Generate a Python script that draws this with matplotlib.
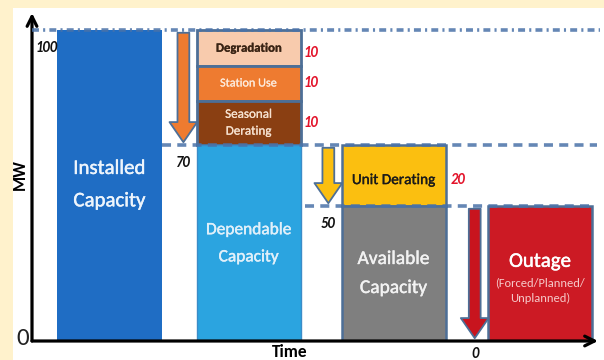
import numpy as np
import matplotlib
matplotlib.use("Agg")
import matplotlib.pyplot as plt
import matplotlib.patheffects as pe
from matplotlib.patches import Rectangle

# capacity build-down, MW
installed_mw = 100
loss_names = ["Degradation", "Station Use", "Seasonal\nDerating"]
loss_mw = [10, 10, 10]
unit_derating_mw = 20
column_names = ["Installed\nCapacity", "Dependable\nCapacity", "Available\nCapacity", "Outage"]
outage_note = "(Forced/Planned/\nUnplanned)"

dependable_mw = installed_mw - sum(loss_mw)
available_mw = dependable_mw - unit_derating_mw
remaining_mw = available_mw - available_mw  # after a full outage

# schematic (piecewise) vertical axis: MW -> drawing height
axis_mw = [0, 50, 70, 80, 90, 100, 105]
axis_h = [0, 135, 196, 240.5, 275.5, 311, 328]

CREAM = "#fff2cc"
EDGE = "#4d6f97"
LINE = "#4a72a8"
loss_colors = ["#f8cbad", "#ee7b30", "#8a3f12"]
loss_text = ["#3a2414", "#fde9d9", "#f6e1cf"]
loss_size = [9.2, 8.8, 9.4]

plt.rcParams["font.family"] = ["Carlito", "Lato", "DejaVu Sans"]
plt.rcParams["lines.scale_dashes"] = False


def fwd(v):
    return np.interp(v, axis_mw, axis_h)


def inv(h):
    return np.interp(h, axis_h, axis_mw)


def heavy(color, w=0.3):
    # slightly thicker strokes for the labels inside the boxes
    return [pe.withStroke(linewidth=w, foreground=color)]


fig = plt.figure(figsize=(6.04, 3.6), dpi=100, facecolor=CREAM)
fig.add_artist(Rectangle((13 / 604, 0), 1, 352 / 360, transform=fig.transFigure,
                         fc="white", ec="none", zorder=-10))
ax = fig.add_axes([32 / 604, 19 / 360, 566 / 604, 328 / 360])
ax.set_yscale("function", functions=(fwd, inv))
ax.set_xlim(-0.54, 3.404)
ax.set_ylim(0, 105)
ax.patch.set_visible(False)
for s in ax.spines.values():
    s.set_visible(False)
ax.set_xticks([])
ax.set_yticks([])
ax.minorticks_off()

# axes with arrow heads
for tip in [(0, 1), (1, 0)]:
    ax.annotate("", xy=tip, xytext=(0, 0), xycoords="axes fraction",
                arrowprops=dict(arrowstyle="->,head_length=0.7,head_width=0.35",
                                lw=2.3, color="black", shrinkA=0, shrinkB=0))

col_x = [0, 0.97, 1.98, 3.0]
bar_w = 0.725
arrow_dx = -0.455

# installed
ax.bar(col_x[0], installed_mw, bar_w, color="#1f6dc4", zorder=2)
ax.text(col_x[0], 57, column_names[0], ha="center", va="center",
        color="#eef5fc", fontsize=15, linespacing=2.1, path_effects=heavy("#eef5fc"))

# losses stacked on top of dependable capacity
top = installed_mw
for name, mw, fc, tc, fs in zip(loss_names, loss_mw, loss_colors, loss_text, loss_size):
    ax.bar(col_x[1], -mw, bar_w, bottom=top, color=fc, edgecolor=EDGE, lw=2, zorder=2)
    mid = top - mw / 2
    ax.text(col_x[1], mid, name, ha="center", va="center", color=tc, fontsize=fs,
            fontweight="bold" if tc == "#3a2414" else "normal", linespacing=1.65,
            path_effects=heavy(tc, 0.15), zorder=3)
    ax.text(col_x[1] + bar_w / 2 + 0.07, mid - (1.5 if top == installed_mw else 0), str(mw),
            ha="center", va="center", color="#e3142b", fontsize=10.5,
            fontweight="bold", fontstyle="italic", zorder=3)
    top -= mw

ax.bar(col_x[1], dependable_mw, bar_w, color="#2ba4e0", edgecolor="#3a8cc8", lw=1, zorder=2)
ax.text(col_x[1], 36, column_names[1], ha="center", va="center",
        color="#e1f0fa", fontsize=12.5, linespacing=2.2, path_effects=heavy("#e1f0fa"))

# unit derating and available capacity
ax.bar(col_x[2], -unit_derating_mw, bar_w, bottom=dependable_mw, color="#fbbf10",
       edgecolor=EDGE, lw=1.8, zorder=2)
ax.text(col_x[2], dependable_mw - unit_derating_mw / 2 - 1.5, "Unit Derating",
        ha="center", va="center", color="#1a1a1a", fontsize=11,
        path_effects=heavy("#1a1a1a", 0.25), zorder=3)
ax.text(col_x[2] + bar_w / 2 + 0.085, dependable_mw - unit_derating_mw / 2 - 1.5,
        str(unit_derating_mw), ha="center", va="center", color="#e3142b",
        fontsize=10.5, fontweight="bold", fontstyle="italic")
ax.bar(col_x[2], available_mw, bar_w, color="#7f7f7f", edgecolor=EDGE, lw=1.8, zorder=2)
ax.text(col_x[2], 25, column_names[2], ha="center", va="center",
        color="#f2f2f2", fontsize=14, linespacing=2.0, path_effects=heavy("#f2f2f2"))

# outage
ax.bar(col_x[3], available_mw - remaining_mw, bar_w, bottom=remaining_mw,
       color="#cc1a24", edgecolor=EDGE, lw=1.8, zorder=2)
ax.text(col_x[3], 29.5, column_names[3], ha="center", va="center",
        color="white", fontsize=15, path_effects=heavy("white"))
ax.text(col_x[3], 18.5, outage_note, ha="center", va="center",
        color="#f6c9c9", fontsize=9, linespacing=1.5)

# step-down arrows
steps = [(installed_mw, dependable_mw, "#ee7b30"),
         (dependable_mw, available_mw, "#fbbf10"),
         (available_mw, remaining_mw, "#c8141e")]
for i, (y0, y1, fc) in enumerate(steps):
    x = col_x[i + 1] + arrow_dx
    ax.annotate("", xy=(x, y1), xytext=(x, y0),
                arrowprops=dict(arrowstyle="simple,head_length=1.45,head_width=2.0,tail_width=0.85",
                                mutation_scale=10, fc=fc, ec=EDGE, lw=1.3,
                                shrinkA=2, shrinkB=2), zorder=4)

# reference levels
x_end = 3.40
ax.plot([-0.54, x_end + 0.02], [installed_mw] * 2, color=LINE, lw=2.6,
        ls=(0, (5, 3, 1.5, 3)), alpha=0.85, zorder=5, clip_on=False)
ax.plot([col_x[1] + arrow_dx - 0.15, x_end], [dependable_mw] * 2, color=LINE, lw=2.6,
        ls=(0, (6.5, 4.5)), alpha=0.85, zorder=5, clip_on=False)
ax.plot([col_x[2] + arrow_dx - 0.16, x_end - 0.03], [available_mw] * 2, color=LINE, lw=2.6,
        ls=(0, (6.5, 4.5)), alpha=0.85, zorder=5, clip_on=False)

# level values under each line
level_x = [-0.435, col_x[1] + arrow_dx, col_x[2] + arrow_dx, col_x[3] + arrow_dx]
for x, mw in zip(level_x, [installed_mw, dependable_mw, available_mw, remaining_mw]):
    ax.annotate(str(mw), xy=(x, mw), xytext=(0, -13 if mw else -9), textcoords="offset points",
                ha="center", va="center", fontsize=10.5, fontweight="bold",
                fontstyle="italic", color="#111111", annotation_clip=False)

ax.annotate("0", xy=(0, 0), xycoords="axes fraction", xytext=(-7, 2),
            textcoords="offset points", ha="center", va="center",
            fontsize=18, color="#222222")
fig.text(20 / 604, 1 - 175 / 360, "MW", rotation=90, ha="center", va="center",
         fontsize=12.5, fontweight="bold")
fig.text(290 / 604, 1 - 352 / 360, "Time", ha="center", va="center",
         fontsize=12.5, fontweight="bold")

fig.savefig("out.png", dpi=100, facecolor=CREAM)
